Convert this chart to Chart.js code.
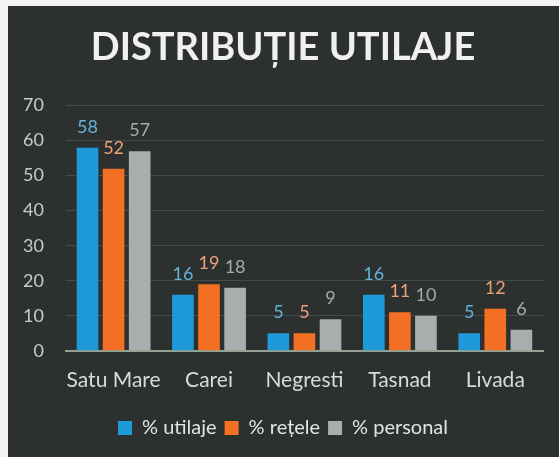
<!DOCTYPE html>
<html>
<head>
<meta charset="utf-8">
<script src="https://cdn.jsdelivr.net/npm/chart.js@4/dist/chart.umd.min.js"></script>
<style>
  html, body { margin: 0; padding: 0; background: #f4f4f2; }
  #wrap { position: absolute; left: 8px; top: 6px; width: 551px; height: 451px; background: #2c302f; }
</style>
</head>
<body>
<div id="wrap"><canvas id="c" width="551" height="451"></canvas></div>
<script>
var categorii = ["Satu Mare", "Carei", "Negresti", "Tasnad", "Livada"];
var utilaje = [58, 16, 5, 16, 5];
var retele = [52, 19, 5, 11, 12];
var personal = [57, 18, 9, 10, 6];
var tickuriY = [0, 10, 20, 30, 40, 50, 60, 70];

var culoriEtichete = ["#62b2dc", "#eba27a", "#a6aba8"];

// etichete deasupra barelor
var etichete = {
	id: "etichete",
	afterDatasetsDraw: function(chart) {
		var ctx = chart.ctx;
		ctx.save();
		ctx.font = "18px Lato";
		ctx.textAlign = "center";
		ctx.textBaseline = "alphabetic";
		chart.data.datasets.forEach(function(ds, i) {
			var meta = chart.getDatasetMeta(i);
			meta.data.forEach(function(bar, j) {
				ctx.fillStyle = culoriEtichete[i];
				ctx.fillText(ds.data[j], bar.x, bar.y - 15);
			});
		});
		ctx.restore();
	}
};

new Chart(document.getElementById("c"), {
	type: "bar",
	data: {
		labels: categorii,
		datasets: [
			{ label: "% utilaje", data: utilaje, backgroundColor: "#1e9ad9" },
			{ label: "% rețele", data: retele, backgroundColor: "#f36f23" },
			{ label: "% personal", data: personal, backgroundColor: "#a9adab" }
		]
	},
	options: {
		responsive: false,
		animation: false,
		layout: { padding: { left: 15, right: 16, top: 0, bottom: 9 } },
		datasets: { bar: { categoryPercentage: 0.82, barPercentage: 0.83 } },
		plugins: {
			title: {
				display: true,
				text: "DISTRIBUȚIE UTILAJE",
				color: "#f0f0ee",
				font: { family: "Lato", size: 38, weight: "bold" },
				padding: { top: 19, bottom: 35 }
			},
			legend: {
				position: "bottom",
				labels: {
					color: "#e2e4e2",
					font: { family: "Lato", size: 20 },
					boxWidth: 14,
					boxHeight: 14,
					padding: 8
				}
			},
			tooltip: { enabled: false }
		},
		scales: {
			x: {
				grid: { display: false, drawTicks: false },
				border: { color: "#93a293", width: 2 },
				ticks: {
					color: "#d8dcd8",
					font: { family: "Lato", size: 21 },
					padding: 17,
					maxRotation: 0,
					minRotation: 0,
					autoSkip: false
				},
				afterFit: function(axis) {
					axis.paddingLeft = 0;
					axis.paddingRight = 0;
				}
			},
			y: {
				min: 0,
				max: 70,
				afterBuildTicks: function(axis) {
					axis.ticks = tickuriY.map(function(v) { return { value: v }; });
				},
				grid: { color: "#454b49", drawTicks: false },
				border: { display: false },
				ticks: { color: "#c8ccc8", font: { family: "Lato", size: 18 }, padding: 22 },
				afterFit: function(axis) { axis.width -= 22; }
			}
		}
	},
	plugins: [etichete]
});
</script>
</body>
</html>
